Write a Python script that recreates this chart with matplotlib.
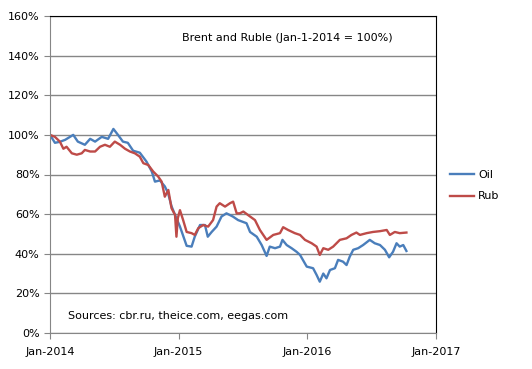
import numpy as np
import matplotlib
matplotlib.use('Agg')
import matplotlib.pyplot as plt
import matplotlib.dates as mdates

# days since 2014-01-01 and value in % (Jan-1-2014 = 100)
oil_day = [0, 14, 28, 43, 66, 79, 99, 114, 128, 147, 165, 180, 193, 207, 221, 236,
           255, 274, 289, 298, 312, 326, 335, 345, 355, 369, 388, 402, 411, 426, 440,
           448, 459, 473, 487, 501, 519, 534, 558, 568, 587, 601, 615, 624, 639, 653,
           660, 672, 686, 700, 710, 718, 729, 747, 757, 766, 776, 785, 795, 809, 818,
           832, 842, 851, 861, 875, 889, 908, 922, 937, 951, 963, 974, 984, 993, 1003, 1012]
oil_val = [100, 96, 96.5, 97.5, 100, 96.6, 95, 98, 96.6, 99, 98, 103, 100, 96.6, 96, 92,
           91, 86.5, 81.5, 76.4, 77, 74, 70.7, 64, 59.6, 53.7, 44, 43.6, 48.6, 54.5, 54.5,
           48.6, 51, 53.7, 58.8, 60.4, 58.8, 57, 55.4, 51, 48.6, 44.4, 38.9, 43.6, 42.8, 43.6,
           47, 44.4, 42.8, 41, 39.4, 36.9, 33.5, 32.7, 29.3, 25.9, 30, 27.6, 31.8, 32.7, 36.9,
           36, 34.3, 38.5, 42, 42.8, 44.4, 47, 45.3, 44.4, 42, 38.2, 41, 45.3, 43.6, 44.4, 41.4]

rub_day = [0, 14, 28, 38, 47, 62, 76, 90, 99, 114, 128, 142, 156, 170, 184, 199, 213,
           227, 241, 255, 265, 279, 293, 307, 317, 326, 336, 345, 355, 359, 363, 369, 378,
           388, 402, 411, 421, 435, 449, 463, 473, 482, 497, 511, 520, 530, 539, 549, 568,
           582, 596, 615, 634, 653, 662, 676, 695, 710, 724, 743, 757, 766, 776, 790, 804,
           823, 842, 856, 870, 880, 899, 917, 937, 956, 965, 979, 993, 1012]
rub_val = [100, 99, 96.6, 93, 94, 90.7, 90, 90.7, 92.4, 91.6, 91.6, 94, 95, 94, 96.6, 95, 93,
           91.6, 90.7, 89, 85.7, 84.8, 81.5, 79, 76.4, 68.8, 72.2, 63, 59.6, 48.6, 58, 62, 57,
           51, 50.4, 49.5, 52.9, 54.5, 53.7, 57, 63.8, 65.5, 63.8, 65.5, 66.3, 60.4, 60.4, 61.3, 58.8,
           57, 52, 47, 49.5, 50.4, 53.4, 52, 50.4, 49.5, 47, 45.3, 43.6, 39.4, 42.8, 42, 43.6,
           47, 47.8, 49.5, 50.7, 49.5, 50.4, 51, 51.4, 52, 49.5, 51, 50.4, 50.7]

x_ticks = ['2014-01-01', '2015-01-01', '2016-01-01', '2017-01-01']
y_ticks = [0, 20, 40, 60, 80, 100, 120, 140, 160]

start = np.datetime64('2014-01-01')
oil_t = start + np.array(oil_day).astype('timedelta64[D]')
rub_t = start + np.array(rub_day).astype('timedelta64[D]')

plt.rcParams['font.family'] = ['DejaVu Sans']
fig = plt.figure(figsize=(5.32, 3.69), dpi=100)
ax = fig.add_axes([50 / 532, 36 / 369, 386 / 532, 317 / 369])

ax.plot(oil_t, oil_val, color='#4A7EBB', lw=1.7, label='Oil')
ax.plot(rub_t, rub_val, color='#BE4B48', lw=1.7, label='Rub')

xt = np.array(x_ticks, dtype='datetime64[D]')
ax.set_xlim(xt[0], xt[-1])
ax.set_xticks(xt)
ax.xaxis.set_major_formatter(mdates.DateFormatter('%b-%Y'))
ax.set_ylim(0, 160)
ax.set_yticks(y_ticks)
ax.set_yticklabels(['%d%%' % v for v in y_ticks])
ax.grid(axis='y', color='#868686', lw=1)
ax.set_axisbelow(True)

for s in ['left', 'bottom']:
    ax.spines[s].set_color('#868686')
for s in ['top', 'right']:
    ax.spines[s].set_color('black')
ax.tick_params(colors='#868686', labelcolor='black', labelsize=8, length=4)
ax.tick_params(axis='x', pad=6)

ax.text(0.614, 0.93, 'Brent and Ruble (Jan-1-2014 = 100%)', transform=ax.transAxes,
        ha='center', va='center', fontsize=8)
ax.text(0.047, 0.054, 'Sources: cbr.ru, theice.com, eegas.com', transform=ax.transAxes,
        ha='left', va='center', fontsize=8)

ax.legend(loc='center left', bbox_to_anchor=(1.01, 0.464), frameon=False, fontsize=8,
          handlelength=2.15, handletextpad=0.4, labelspacing=1.0)

fig.savefig('out.png', dpi=100)
